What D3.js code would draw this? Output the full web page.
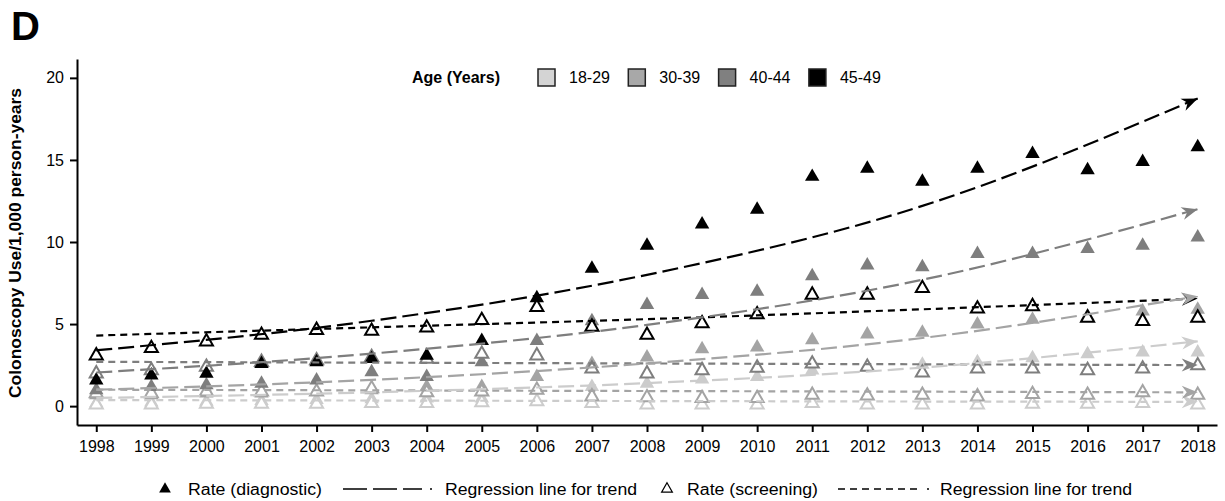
<!DOCTYPE html>
<html>
<head>
<meta charset="utf-8">
<script src="https://cdn.jsdelivr.net/npm/d3@7/dist/d3.min.js"></script>
<style>
  body { margin: 0; background: #fff; }
  svg text { font-family: "Liberation Sans", Arial, sans-serif; fill: #000; }
</style>
</head>
<body>
<div id="chart"></div>
<script>
// ====== Colonoscopy use by age group, 1998-2018 ======

const years = [1998, 1999, 2000, 2001, 2002, 2003, 2004, 2005, 2006, 2007, 2008,
               2009, 2010, 2011, 2012, 2013, 2014, 2015, 2016, 2017, 2018];
const ages = ["18-29", "30-39", "40-44", "45-49"];
const yTicks = [0, 5, 10, 15, 20];

// rate (diagnostic), per age group
const diag18 = [0.3, 0.35, 0.4, 0.45, 0.5, 0.55, 0.6, 0.6, 1.1, 1.3, 1.5, 1.75, 1.9, 2.3, 2.5, 2.65, 2.8, 3.05, 3.3, 3.4, 3.4];
const diag30 = [0.8, 0.8, 0.9, 0.9, 1.0, 1.1, 1.3, 1.3, 1.9, 2.7, 3.1, 3.6, 3.7, 4.15, 4.5, 4.6, 5.1, 5.4, 5.6, 5.9, 6.0];
const diag40 = [1.1, 1.3, 1.4, 1.5, 1.7, 2.2, 1.9, 2.8, 4.1, 5.3, 6.3, 6.9, 7.1, 8.05, 8.7, 8.6, 9.4, 9.4, 9.7, 9.9, 10.4];
const diag45 = [1.7, 2.0, 2.1, 2.7, 2.8, 3.0, 3.2, 4.1, 6.7, 8.5, 9.9, 11.2, 12.1, 14.1, 14.6, 13.8, 14.6, 15.5, 14.5, 15.0, 15.9];

// rate (screening), per age group
const scr18 = [0.2, 0.2, 0.25, 0.25, 0.25, 0.3, 0.3, 0.35, 0.4, 0.3, 0.2, 0.2, 0.2, 0.3, 0.2, 0.2, 0.2, 0.25, 0.25, 0.3, 0.2];
const scr30 = [0.9, 0.9, 1.0, 1.0, 1.0, 1.2, 0.95, 1.0, 1.1, 0.7, 0.65, 0.6, 0.6, 0.8, 0.75, 0.8, 0.7, 0.85, 0.8, 0.95, 0.8];
const scr40 = [2.1, 2.3, 2.5, 2.8, 2.9, 3.1, 3.0, 3.3, 3.2, 2.4, 2.1, 2.3, 2.45, 2.7, 2.5, 2.15, 2.4, 2.4, 2.3, 2.4, 2.6];
const scr45 = [3.2, 3.65, 4.05, 4.45, 4.75, 4.7, 4.9, 5.35, 6.15, 4.95, 4.45, 5.15, 5.7, 6.9, 6.9, 7.3, 6.05, 6.2, 5.5, 5.3, 5.5];

// regression lines for trend, read at these years
const trendYears = [1998, 2003, 2008, 2013, 2018];
const trendDiag18 = [0.5, 0.84, 1.4, 2.35, 3.95];
const trendDiag30 = [1.0, 1.6, 2.6, 4.15, 6.7];
const trendDiag40 = [2.05, 3.2, 4.95, 7.7, 12.0];
const trendDiag45 = [3.4, 5.2, 8.0, 12.2, 18.75];
const trendScr18 = [0.37, 0.34, 0.31, 0.28, 0.26];
const trendScr30 = [1.0, 0.96, 0.92, 0.88, 0.84];
const trendScr40 = [2.7, 2.65, 2.6, 2.55, 2.5];
const trendScr45 = [4.3, 4.8, 5.3, 5.9, 6.55];

const ageColors = ["#cccccc", "#a4a4a4", "#7e7e7e", "#000000"];

const groups = [
  {diag: diag18, scr: scr18, tDiag: trendDiag18, tScr: trendScr18},
  {diag: diag30, scr: scr30, tDiag: trendDiag30, tScr: trendScr30},
  {diag: diag40, scr: scr40, tDiag: trendDiag40, tScr: trendScr40},
  {diag: diag45, scr: scr45, tDiag: trendDiag45, tScr: trendScr45}
];

let width = 1225, height = 501;

let svg = d3.select("#chart").append("svg")
    .attr("width", width)
    .attr("height", height);

let x = d3.scaleLinear().domain([1997.65, 2018.35]).range([77, 1217]);
let y = d3.scaleLinear().domain([-1.15, 21.15]).range([425, 59]);

// arrow heads, one per colour
let defs = svg.append("defs");
ageColors.forEach(function(c, i) {
    defs.append("marker")
        .attr("id", "arrow" + i)
        .attr("markerUnits", "userSpaceOnUse")
        .attr("viewBox", "-17 -8 18 16")
        .attr("refX", 0)
        .attr("refY", 0)
        .attr("markerWidth", 18)
        .attr("markerHeight", 16)
        .attr("orient", "auto")
        .append("path")
        .attr("d", "M0,0L-16,-6.5L-11,0L-16,6.5Z")
        .attr("fill", c);
});

// axes
svg.append("g")
    .attr("class", "x axis")
    .attr("transform", "translate(0,425)")
    .call(d3.axisBottom(x).tickValues(years).tickFormat(d3.format("d"))
        .tickSizeInner(7).tickSizeOuter(0).tickPadding(9));

svg.append("g")
    .attr("class", "y axis")
    .attr("transform", "translate(77,0)")
    .call(d3.axisLeft(y).tickValues(yTicks).tickSizeInner(7).tickSizeOuter(0).tickPadding(6));

svg.selectAll(".axis path, .axis line").attr("stroke", "#000").attr("stroke-width", 2);
svg.selectAll(".axis text").attr("font-size", 16).attr("font-family", null).attr("fill", "#000");

svg.append("text")
    .attr("transform", "translate(21,243) rotate(-90)")
    .attr("text-anchor", "middle")
    .attr("font-weight", "bold")
    .attr("font-size", 16.5)
    .attr("textLength", 310)
    .attr("lengthAdjust", "spacingAndGlyphs")
    .text("Colonoscopy Use/1,000 person-years");

svg.append("text")
    .attr("x", 11)
    .attr("y", 40)
    .attr("font-weight", "bold")
    .attr("font-size", 40)
    .text("D");

// points
let filledTri = d3.symbol().type(d3.symbolTriangle).size(90);
let openTri = d3.symbol().type(d3.symbolTriangle).size(74);

let pointLayer = svg.append("g");
groups.forEach(function(g, i) {
    pointLayer.append("g").selectAll("path")
        .data(g.diag)
        .enter().append("path")
        .attr("d", filledTri)
        .attr("transform", function(d, j) { return "translate(" + x(years[j]) + "," + (y(d) + 2) + ")"; })
        .attr("fill", ageColors[i]);

    pointLayer.append("g").selectAll("path")
        .data(g.scr)
        .enter().append("path")
        .attr("d", openTri)
        .attr("transform", function(d, j) { return "translate(" + x(years[j]) + "," + (y(d) + 2) + ")"; })
        .attr("fill", "#fff")
        .attr("stroke", ageColors[i])
        .attr("stroke-width", 2);
});

// trend lines
let line = d3.line()
    .x(function(d, j) { return x(trendYears[j]); })
    .y(function(d) { return y(d); })
    .curve(d3.curveMonotoneX);

groups.forEach(function(g, i) {
    svg.append("path")
        .attr("d", line(g.tScr))
        .attr("fill", "none")
        .attr("stroke", ageColors[i])
        .attr("stroke-width", 2.2)
        .attr("stroke-dasharray", "7,5")
        .attr("marker-end", "url(#arrow" + i + ")");
});
groups.forEach(function(g, i) {
    svg.append("path")
        .attr("d", line(g.tDiag))
        .attr("fill", "none")
        .attr("stroke", ageColors[i])
        .attr("stroke-width", 2.2)
        .attr("stroke-dasharray", "16,6")
        .attr("marker-end", "url(#arrow" + i + ")");
});

// top legend
svg.append("text")
    .attr("x", 412)
    .attr("y", 83)
    .attr("font-weight", "bold")
    .attr("font-size", 16)
    .text("Age (Years)");

let legend = svg.selectAll(".legend")
    .data(ages)
    .enter().append("g")
    .attr("class", "legend")
    .attr("transform", function(d, i) { return "translate(" + (538 + i * 90.3) + ",69)"; });

legend.append("rect")
    .attr("width", 17)
    .attr("height", 17)
    .attr("fill", function(d, i) { return ["#d4d4d4", "#a8a8a8", "#808080", "#000"][i]; })
    .attr("stroke", "#222")
    .attr("stroke-width", 1.5);

legend.append("text")
    .attr("x", 31)
    .attr("y", 14)
    .attr("font-size", 16)
    .text(function(d) { return d; });

// bottom legend
let bottom = svg.append("g").attr("transform", "translate(0,489)");

bottom.append("path")
    .attr("d", d3.symbol().type(d3.symbolTriangle).size(60))
    .attr("transform", "translate(165,0)")
    .attr("fill", "#000");
bottom.append("text").attr("x", 188).attr("y", 6).attr("font-size", 16)
    .attr("textLength", 134).attr("lengthAdjust", "spacingAndGlyphs")
    .text("Rate (diagnostic)");

bottom.append("line")
    .attr("x1", 343).attr("x2", 422).attr("y1", 0).attr("y2", 0)
    .attr("stroke", "#000").attr("stroke-width", 1.5).attr("stroke-dasharray", "24,6");
bottom.append("circle").attr("cx", 431).attr("cy", 0).attr("r", 1).attr("fill", "#000");
bottom.append("text").attr("x", 445).attr("y", 6).attr("font-size", 16)
    .attr("textLength", 192).attr("lengthAdjust", "spacingAndGlyphs")
    .text("Regression line for trend");

bottom.append("path")
    .attr("d", d3.symbol().type(d3.symbolTriangle).size(50))
    .attr("transform", "translate(667,0)")
    .attr("fill", "none")
    .attr("stroke", "#000")
    .attr("stroke-width", 1.2);
bottom.append("text").attr("x", 687).attr("y", 6).attr("font-size", 16)
    .attr("textLength", 131).attr("lengthAdjust", "spacingAndGlyphs")
    .text("Rate (screening)");

bottom.append("line")
    .attr("x1", 838).attr("x2", 921).attr("y1", 0).attr("y2", 0)
    .attr("stroke", "#000").attr("stroke-width", 1.5).attr("stroke-dasharray", "7,5");
bottom.append("circle").attr("cx", 928).attr("cy", 0).attr("r", 1).attr("fill", "#000");
bottom.append("text").attr("x", 940).attr("y", 6).attr("font-size", 16)
    .attr("textLength", 192).attr("lengthAdjust", "spacingAndGlyphs")
    .text("Regression line for trend");
</script>
</body>
</html>
